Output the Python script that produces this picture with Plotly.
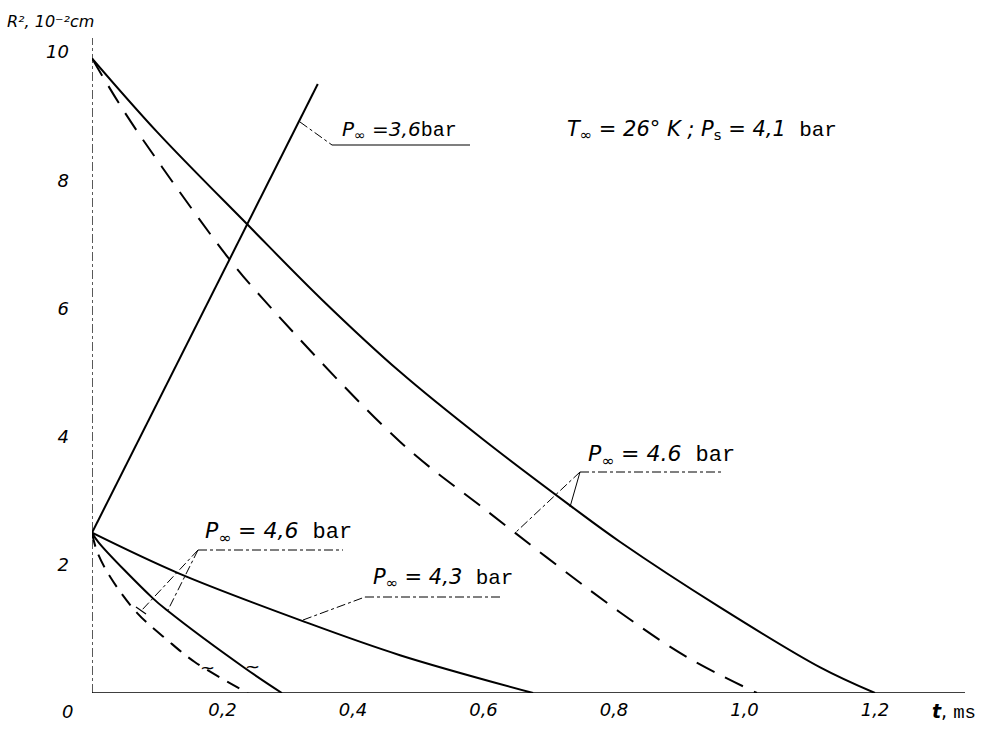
import plotly.graph_objects as go

# ---- data ----
t_big_solid = [0, 0.10, 0.239, 0.354, 0.472, 0.60, 0.736, 0.809, 0.962, 1.116, 1.2]
r_big_solid = [9.9, 8.75, 7.30, 6.12, 5.01, 3.95, 2.90, 2.36, 1.34, 0.40, 0]

t_big_dash = [0, 0.05, 0.107, 0.208, 0.261, 0.472, 0.599, 0.809, 0.912, 1.019]
r_big_dash = [9.9, 9.06, 8.21, 6.80, 6.16, 3.92, 2.89, 1.26, 0.56, 0]

t_36 = [0, 0.346]
r_36 = [2.5, 9.5]

t_43 = [0, 0.132, 0.326, 0.472, 0.676]
r_43 = [2.5, 1.87, 1.11, 0.59, 0]

t_46_solid = [0, 0.010, 0.093, 0.115, 0.234, 0.291]
r_46_solid = [2.5, 2.35, 1.48, 1.29, 0.39, 0]

t_46_dash = [0, 0.008, 0.028, 0.069, 0.115, 0.158, 0.239]
r_46_dash = [2.5, 2.2, 1.81, 1.25, 0.83, 0.48, 0]

x_ticks = [0.2, 0.4, 0.6, 0.8, 1.0, 1.2]
x_tick_text = ["0,2", "0,4", "0,6", "0,8", "1,0", "1,2"]
y_ticks = [2, 4, 6, 8, 10]
y_tick_text = ["2", "4", "6", "8", "10"]

# plot-area geometry (pixels)
L, R, T, B = 92, 966, 20, 693


def px(x):
    return (x - L) / 652.5


def py(y):
    return (B - y) / 64.1


def ppx(x):
    return (x - L) / (R - L)


def ppy(y):
    return (B - y) / (B - T)


fig = go.Figure()
lw = 2
for t, r, dash in [
    (t_big_solid, r_big_solid, "solid"),
    (t_big_dash, r_big_dash, "20px,12px"),
    (t_36, r_36, "solid"),
    (t_43, r_43, "solid"),
    (t_46_solid, r_46_solid, "solid"),
    (t_46_dash, r_46_dash, "14px,9px"),
]:
    fig.add_trace(go.Scatter(x=t, y=r, mode="lines",
                             line=dict(color="black", width=lw, dash=dash, shape="spline", smoothing=1.0),
                             hoverinfo="skip", showlegend=False))

# axes lines
fig.add_shape(type="line", x0=0, x1=0, y0=0, y1=py(38), line=dict(color="black", width=1.3, dash="dashdot"))
fig.add_shape(type="line", x0=0, x1=px(965), y0=0, y1=0, line=dict(color="black", width=1.6))
for xt in [0.2, 1.0, 1.2]:
    fig.add_shape(type="line", x0=xt, x1=xt, y0=0, y1=-0.12, line=dict(color="black", width=1.2))

leader = dict(color="black", width=1, dash="dashdot")
# 3.6 leader
fig.add_shape(type="line", x0=px(300), y0=py(122), x1=px(332), y1=py(145), line=leader)
fig.add_shape(type="line", x0=px(332), y0=py(145), x1=px(470), y1=py(145), line=dict(color="black", width=1.2))
# big 4.6 leaders
fig.add_shape(type="line", x0=px(580), y0=py(472), x1=px(724), y1=py(472), line=leader)
fig.add_shape(type="line", x0=px(580), y0=py(472), x1=px(515), y1=py(533), line=leader)
fig.add_shape(type="line", x0=px(580), y0=py(472), x1=px(570), y1=py(507), line=dict(color="black", width=1))
# small 4.6 leaders
fig.add_shape(type="line", x0=px(198), y0=py(550), x1=px(343), y1=py(550), line=leader)
fig.add_shape(type="line", x0=px(198), y0=py(550), x1=px(142), y1=py(610), line=leader)
fig.add_shape(type="line", x0=px(136), y0=py(607), x1=px(146), y1=py(614), line=dict(color="black", width=1.2))
fig.add_shape(type="line", x0=px(198), y0=py(550), x1=px(168), y1=py(610), line=leader)
# 4.3 leader
fig.add_shape(type="line", x0=px(303), y0=py(620), x1=px(365), y1=py(597), line=leader)
fig.add_shape(type="line", x0=px(365), y0=py(597), x1=px(500), y1=py(597), line=leader)

ital = "DejaVu Sans"
mono = "Liberation Mono"


def ann(x, y, text, size=21, font=ital, xanchor="left"):
    fig.add_annotation(x=ppx(x), y=ppy(y), xref="paper", yref="paper", text=text, showarrow=False,
                       xanchor=xanchor, yanchor="middle",
                       font=dict(family=font, size=size, color="black"))


P = "<i>P</i><sub>∞</sub>"
BAR = f"<span style='font-family:{mono}'>bar</span>"
ann(340, 130, f"{P} <i>=3,6</i>{BAR}", size=20)
ann(565, 130, f"<i>T</i><sub>∞</sub><i> = 26° K ; P</i><sub>s</sub><i> = 4,1</i>  {BAR}", size=21)
ann(586, 456, f"{P}<i> = 4.6</i>  {BAR}", size=22)
ann(203, 532, f"{P}<i> = 4,6</i>  {BAR}", size=22)
ann(371, 578, f"{P}<i> = 4,3</i>  {BAR}", size=21)
ann(207, 667, "<i>~</i>", size=18, xanchor="center")
ann(252, 666, "<i>~</i>", size=18, xanchor="center")
ann(67, 712, "<i>0</i>", size=18, xanchor="center")
ann(930, 712, f"<b><i>t</i></b>, <span style='font-family:{mono}'>ms</span>", size=19)
ann(5, 22, "<i>R², 10⁻²cm</i>", size=16)

fig.update_layout(
    width=1001, height=731,
    margin=dict(l=L, r=1001 - R, t=T, b=731 - B),
    paper_bgcolor="white", plot_bgcolor="white",
    xaxis=dict(range=[0, px(R)], tickvals=x_ticks, ticktext=x_tick_text, showgrid=False, zeroline=False,
               showline=False, ticks="", ticklabelstandoff=4,
               tickfont=dict(family=ital, size=18, color="black", style="italic"), fixedrange=True),
    yaxis=dict(range=[0, py(T)], tickvals=y_ticks, ticktext=y_tick_text, showgrid=False, zeroline=False,
               showline=False, ticks="", ticklabelstandoff=22,
               tickfont=dict(family=ital, size=18, color="black", style="italic"), fixedrange=True),
)

fig.write_html("out.html")
